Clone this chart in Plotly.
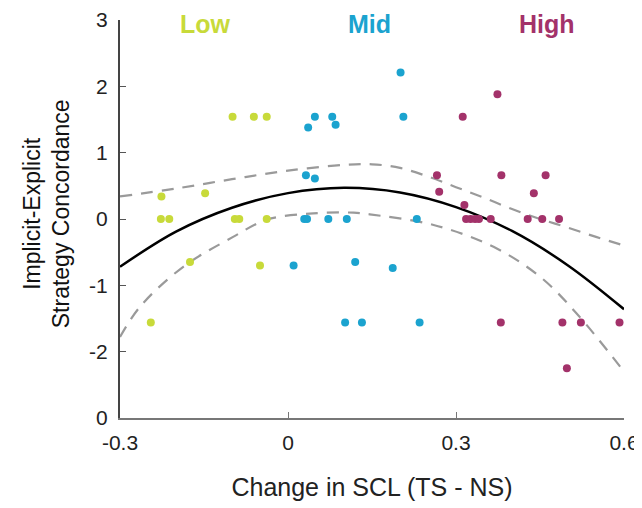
import plotly.graph_objects as go

# ---- data ----
low_x = [-0.099, -0.061, -0.038, -0.226, -0.148, -0.227, -0.212, -0.095, -0.087, -0.038,
         -0.175, -0.050, -0.245]
low_y = [1.54, 1.54, 1.54, 0.34, 0.39, 0.0, 0.0, 0.0, 0.0, 0.0,
         -0.65, -0.70, -1.56]

mid_x = [0.036, 0.048, 0.079, 0.085, 0.032, 0.048, 0.029, 0.034, 0.072, 0.105,
         0.201, 0.206, 0.230, 0.010, 0.120, 0.102, 0.132, 0.187, 0.235]
mid_y = [1.38, 1.54, 1.54, 1.42, 0.66, 0.61, 0.0, 0.0, 0.0, 0.0,
         2.21, 1.54, 0.0, -0.70, -0.65, -1.56, -1.56, -0.74, -1.56]

high_x = [0.374, 0.312, 0.266, 0.381, 0.460, 0.270, 0.439, 0.315,
          0.318, 0.326, 0.334, 0.341, 0.362, 0.428, 0.454, 0.484,
          0.380, 0.490, 0.523, 0.592, 0.498]
high_y = [1.88, 1.54, 0.66, 0.66, 0.66, 0.41, 0.39, 0.21,
          0.0, 0.0, 0.0, 0.0, 0.0, 0.0, 0.0, 0.0,
          -1.56, -1.56, -1.56, -1.56, -2.25]

fit_x = [-0.3, -0.2, -0.1, 0.0, 0.1, 0.2, 0.3, 0.4, 0.5, 0.6]
fit_y = [-0.72, -0.19, 0.17, 0.39, 0.47, 0.40, 0.18, -0.18, -0.70, -1.36]

ci_up_x = [-0.3, -0.2, -0.1, 0.0, 0.1, 0.15, 0.2, 0.25, 0.3, 0.35, 0.4, 0.45, 0.5, 0.55, 0.6]
ci_up_y = [0.34, 0.46, 0.60, 0.73, 0.815, 0.825, 0.77, 0.64, 0.48, 0.32, 0.15, 0.0, -0.13, -0.27, -0.40]

ci_lo_x = [-0.3, -0.264, -0.187, -0.098, -0.038, 0.045, 0.117, 0.146, 0.26, 0.367, 0.45, 0.515, 0.6]
ci_lo_y = [-1.78, -1.32, -0.72, -0.27, -0.01, 0.085, 0.095, 0.07, -0.09, -0.42, -0.87, -1.42, -2.30]

y_tickvals = [3, 2, 1, 0, -1, -2, -3]
y_ticktext = ["3", "2", "1", "0", "-1", "-2", "0"]
x_tickvals = [-0.3, 0, 0.3, 0.6]
x_ticktext = ["-0.3", "0", "0.3", "0.6"]

group_names = ["Low", "Mid", "High"]
group_label_x = [-0.148, 0.146, 0.462]
colors = ["#C8DA3A", "#1BA3CF", "#A3326A"]

FONT = "Liberation Sans, Arial, sans-serif"

fig = go.Figure()

for gx, gy in [(ci_up_x, ci_up_y), (ci_lo_x, ci_lo_y)]:
    fig.add_trace(go.Scatter(x=gx, y=gy, mode="lines", line=dict(color="#9A9A9A", width=2.2, dash="12px,9px", shape="spline"),
                             hoverinfo="skip", showlegend=False))

fig.add_trace(go.Scatter(x=fit_x, y=fit_y, mode="lines", line=dict(color="black", width=2.5, shape="spline"),
                         showlegend=False))

for (xs, ys), c, n in zip([(low_x, low_y), (mid_x, mid_y), (high_x, high_y)], colors, group_names):
    fig.add_trace(go.Scatter(x=xs, y=ys, mode="markers", name=n,
                             marker=dict(color=c, size=8), showlegend=False, cliponaxis=False))

for n, gx, c in zip(group_names, group_label_x, colors):
    fig.add_annotation(x=gx, y=2.94, xref="x", yref="y", text="<b>%s</b>" % n, showarrow=False,
                       font=dict(family=FONT, size=25, color=c), xanchor="center", yanchor="middle")

fig.add_annotation(x=-0.146, y=0.513, xref="paper", yref="paper", text="Implicit-Explicit<br>Strategy Concordance",
                   textangle=-90, showarrow=False, font=dict(family=FONT, size=23, color="#111"),
                   xanchor="center", yanchor="middle")

# the page adds an 8px body margin, so the figure's margins are shifted to compensate
fig.update_layout(
    width=642, height=508,
    margin=dict(l=112, r=26, t=12, b=98),
    paper_bgcolor="white", plot_bgcolor="white",
    font=dict(family=FONT, size=18, color="#222"),
    xaxis=dict(range=[-0.3, 0.6], tickvals=x_tickvals, ticktext=x_ticktext, showgrid=False, zeroline=False,
               showline=True, linecolor="#777", linewidth=2, ticks="inside", ticklen=6, tickcolor="#777",
               automargin=False, ticklabelstandoff=5,
               title=dict(text="Change in SCL (TS - NS)", font=dict(size=25, family=FONT, color="#222"), standoff=25),
               tickfont=dict(size=21)),
    yaxis=dict(range=[-3, 3], tickvals=y_tickvals, ticktext=y_ticktext, showgrid=False, zeroline=False,
               showline=True, linecolor="#444", linewidth=2, ticks="inside", ticklen=6, tickcolor="#555",
               automargin=False, ticklabelstandoff=6,
               tickfont=dict(size=21)),
)

fig.write_html("out.html")
